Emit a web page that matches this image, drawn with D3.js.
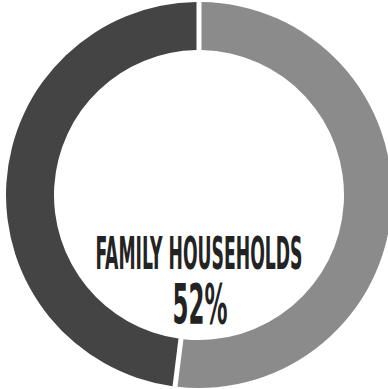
<!DOCTYPE html>
<html>
<head>
<meta charset="utf-8">
<script src="https://cdn.jsdelivr.net/npm/d3@7"></script>
<style>
  html, body { margin: 0; padding: 0; background: #fff; }
  svg { display: block; }
</style>
</head>
<body>
<svg id="chart" width="388" height="389"></svg>
<script>
// Household composition shares (percent)
const categories = ["Family households", "Non-family households"];
const shares = [52, 48];
const colors = ["#8b8b8b", "#444444"];
const label = "FAMILY HOUSEHOLDS";

const svg = d3.select("#chart");
const cx = 199, cy = 195;
const outerR = 193, innerR = 145;

const pie = d3.pie().sort(null).value(d => d).padAngle(5 / outerR);
const arc = d3.arc().innerRadius(innerR).outerRadius(outerR).padRadius(outerR);

const g = svg.append("g").attr("transform", `translate(${cx},${cy})`);

g.selectAll("path.slice")
  .data(pie(shares))
  .join("path")
  .attr("class", "slice")
  .attr("d", arc)
  .attr("fill", (d, i) => colors[i]);

// Condensed caption: draw at a given size, then squeeze horizontally to a target width
function condensedText(str, baseline, size, width, dx) {
  const holder = g.append("g");
  const t = holder.append("text")
    .attr("x", 0)
    .attr("y", 0)
    .attr("text-anchor", "middle")
    .attr("font-family", "'Liberation Sans Narrow', 'DejaVu Sans Condensed', 'Liberation Sans', sans-serif")
    .attr("font-weight", "bold")
    .attr("font-size", size)
    .attr("fill", "#232323")
    .text(str);
  const w = t.node().getComputedTextLength();
  const sx = w > 0 ? width / w : 1;
  holder.attr("transform", `translate(${dx},${baseline}) scale(${sx},1)`);
}

condensedText(label, 74, 44, 207, 0);
condensedText(d3.format(".0f")(shares[0]) + "%", 128, 55, 55, 1);
</script>
</body>
</html>
